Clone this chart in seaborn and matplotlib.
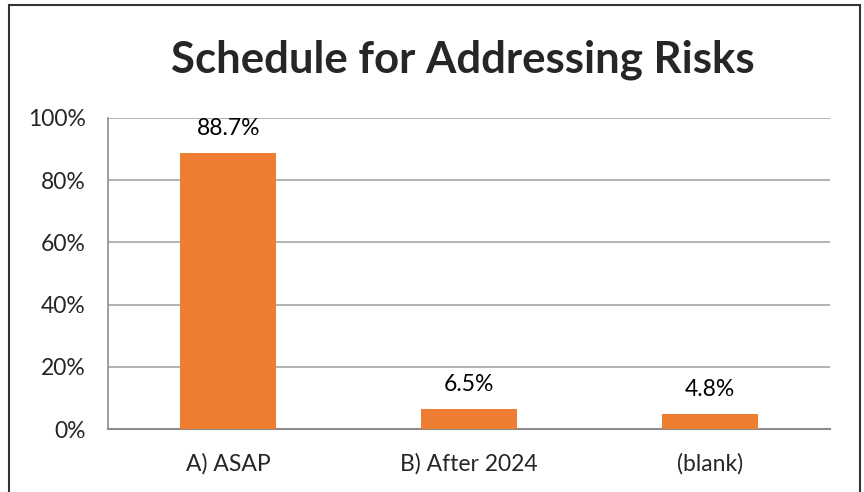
import matplotlib
matplotlib.use("Agg")
import matplotlib.pyplot as plt
import seaborn as sns
import pandas as pd
from matplotlib.patches import Rectangle
from matplotlib.ticker import PercentFormatter

categories = ["A) ASAP", "B) After 2024", "(blank)"]
shares = [88.7, 6.5, 4.8]
labels = ["88.7%", "6.5%", "4.8%"]
y_ticks = [0, 20, 40, 60, 80, 100]

df = pd.DataFrame({"category": categories, "share": shares})

sns.set_style("white")
plt.rcParams["font.family"] = ["Lato", "DejaVu Sans"]

fig = plt.figure(figsize=(8.64, 4.92), dpi=100)
ax = fig.add_axes([108 / 864, 1 - 429 / 492, 722 / 864, 311 / 492])

sns.barplot(data=df, x="category", y="share", color="#ed7d31", width=0.4,
            saturation=1, linewidth=0, ax=ax, zorder=3)

for i, (v, lab) in enumerate(zip(shares, labels)):
    ax.annotate(lab, (i, v), xytext=(0, 10), textcoords="offset points",
                ha="center", va="bottom", fontsize=16.5, color="#000000")

ax.set_ylim(0, 100)
ax.set_xlim(-0.5, 2.5)
ax.set_yticks(y_ticks)
ax.yaxis.set_major_formatter(PercentFormatter(decimals=0))
ax.grid(axis="y", color="#a6a6a6", linewidth=1.2, zorder=0)
ax.set_xticks([-0.5, 0.5, 1.5, 2.5], minor=True)
ax.tick_params(axis="x", which="major", length=0, labelsize=16.5, pad=17)
ax.tick_params(axis="x", which="minor", length=6, width=1.2, color="#8c8c8c",
               direction="out")
ax.tick_params(axis="y", length=6, width=1.2, color="#8c8c8c", labelsize=16.5,
               pad=10, direction="out")
for s in ["top", "right"]:
    ax.spines[s].set_visible(False)
ax.spines["left"].set_color("#8c8c8c")
ax.spines["bottom"].set_color("#8c8c8c")
ax.spines["left"].set_linewidth(1.2)
ax.spines["bottom"].set_linewidth(1.5)
ax.set_xlabel("")
ax.set_ylabel("")

fig.text(463 / 864, 1 - 60 / 492, "Schedule for Addressing Risks", ha="center",
         va="center", fontsize=31.5, fontweight="bold")

fig.patches.append(Rectangle((9 / 864, -0.01), 851 / 864, 1 - 5 / 492 + 0.01,
                             transform=fig.transFigure, fill=False,
                             edgecolor="#333333", linewidth=1.5))

fig.savefig("out.png", dpi=100)
